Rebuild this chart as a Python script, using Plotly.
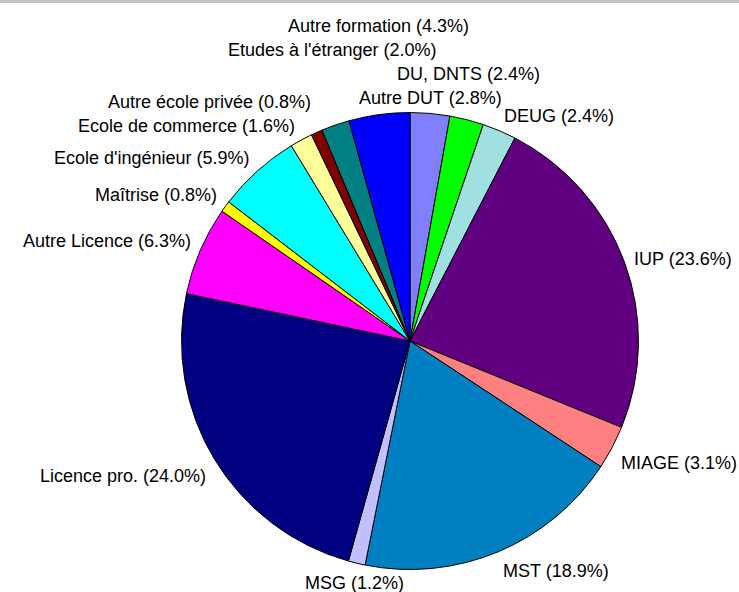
import math
import plotly.graph_objects as go

# ---- data ----
categories = ["Autre DUT", "DU, DNTS", "DEUG", "IUP", "MIAGE", "MST", "MSG",
              "Licence pro.", "Autre Licence", "Maîtrise", "Ecole d'ingénieur",
              "Ecole de commerce", "Autre école privée", "Etudes à l'étranger",
              "Autre formation"]
percents = [2.8, 2.4, 2.4, 23.6, 3.1, 18.9, 1.2, 24.0, 6.3, 0.8, 5.9, 1.6, 0.8, 2.0, 4.3]
colors = ["#8080FF", "#00FF00", "#A0E0E0", "#600080", "#FF8080", "#0080C0", "#C0C0FF",
          "#000080", "#FF00FF", "#FFFF00", "#00FFFF", "#FFFF99", "#800000", "#008080",
          "#0000FF"]

# ---- layout constants ----
W, H = 739, 592
cx, cy, R = 410.0, 341.0, 228.5
FONT = 18
LABEL_GAP = 8
ROW_H = 24

labels = [f"{c} ({p:.1f}%)" for c, p in zip(categories, percents)]

# Arial-like widths for label layout estimation (per 1000 em)
_w = {' ': 278, '(': 333, ')': 333, '.': 278, ',': 278, '%': 889, "'": 191,
      'A': 667, 'B': 667, 'C': 722, 'D': 722, 'E': 667, 'F': 611, 'G': 778, 'H': 722,
      'I': 278, 'J': 500, 'K': 667, 'L': 556, 'M': 833, 'N': 722, 'O': 778, 'P': 667,
      'Q': 778, 'R': 722, 'S': 667, 'T': 611, 'U': 722, 'V': 667, 'W': 944, 'X': 667,
      'Y': 667, 'Z': 611, 'c': 500, 'f': 278, 'i': 222, 'j': 222, 'k': 500, 'l': 222,
      'm': 833, 'r': 333, 's': 500, 't': 278, 'v': 500, 'w': 722, 'x': 500, 'y': 500,
      'z': 500, 'î': 278}


def text_width(s):
    return sum(_w.get(ch, 556) for ch in s) * 19 / 1000.0


total = sum(percents)
boxes = []
annotations = []
cum = 0.0
for lab, p in zip(labels, percents):
    theta = 2 * math.pi * (cum + p / 2) / total
    cum += p
    s, c = math.sin(theta), math.cos(theta)
    r = R + LABEL_GAP
    px, py = cx + r * s, cy - r * c
    w = text_width(lab)
    if s > 0.35:
        xa, x0 = "left", px
    elif s < -0.35:
        xa, x0 = "right", px - w
    else:
        xa, x0 = "center", px - w / 2
    if c > 0.35:
        yc, direction = py - 7, -1
    elif c < -0.35:
        yc, direction = py + 12, 1
    else:
        yc, direction = py, (-1 if c >= 0 else 1)
    x1 = x0 + w
    # resolve collisions by pushing away from the centre vertically
    moved = True
    while moved:
        moved = False
        for (bx0, bx1, byc) in boxes:
            if x0 < bx1 - 6 and x1 > bx0 + 6 and abs(yc - byc) < ROW_H:
                yc = byc + direction * ROW_H
                moved = True
    boxes.append((x0, x1, yc))
    annotations.append(dict(
        x=px / W, y=1 - yc / H, xref="paper", yref="paper",
        text=lab, showarrow=False, xanchor=xa, yanchor="middle",
        font=dict(family="Liberation Sans, Arial, sans-serif", size=FONT, color="black"),
    ))

fig = go.Figure(go.Pie(
    labels=categories,
    values=percents,
    sort=False,
    direction="clockwise",
    rotation=0,
    textinfo="none",
    hoverinfo="label+percent",
    marker=dict(colors=colors, line=dict(color="black", width=1)),
    domain=dict(x=[(cx - R) / W, (cx + R) / W], y=[1 - (cy + R) / H, 1 - (cy - R) / H]),
))

fig.update_layout(
    width=W, height=H,
    margin=dict(l=0, r=0, t=0, b=0),
    paper_bgcolor="white",
    plot_bgcolor="white",
    showlegend=False,
    annotations=annotations,
    shapes=[dict(type="rect", xref="paper", yref="paper", x0=0, x1=1,
                 y0=1 - 3 / H, y1=1, fillcolor="#C0C0C0", line=dict(width=0))],
)

fig.write_html("out.html", config={"displayModeBar": False},
               post_script="document.body.style.margin='0';")
